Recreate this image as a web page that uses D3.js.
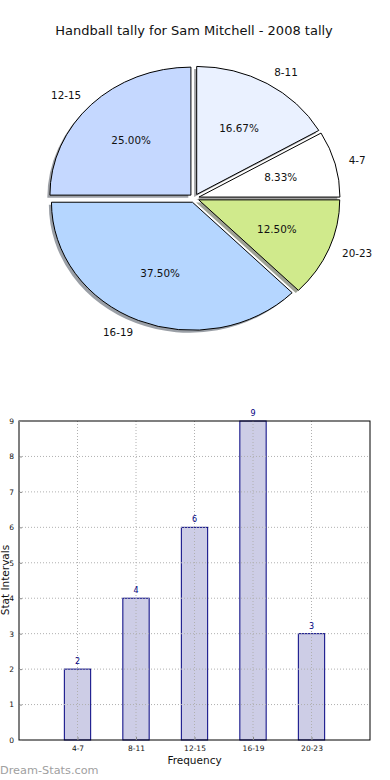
<!DOCTYPE html>
<html><head><meta charset="utf-8">
<script src="https://cdn.jsdelivr.net/npm/d3@7"></script>
<style>
body{margin:0;background:#fff;}
svg{display:block;font-family:"DejaVu Sans",sans-serif;}
</style></head>
<body><svg id="c" width="390" height="780"></svg>
<script>
const title = "Handball tally for Sam Mitchell - 2008 tally";
const categories = ["4-7","8-11","12-15","16-19","20-23"];
const counts = [2,4,6,9,3];
const pieColors = ["#ffffff","#eaf1ff","#c5d8ff","#b5d6ff","#d0ea8c"];
const yTicks = [0,1,2,3,4,5,6,7,8,9];
const xLabel = "Frequency";
const yLabel = "Stat Intervals";
const watermark = "Dream-Stats.com";

const svg = d3.select("#c");
svg.append("rect").attr("width",390).attr("height",780).attr("fill","#fff");

// Title
svg.append("text").attr("x",194).attr("y",35).attr("text-anchor","middle")
  .attr("font-size",13).attr("fill","#111").text(title);

// ---------- PIE ----------
const cx = 194.3, cy = 198.2, rx = 141, ry = 128;
const k = ry/rx;
const explode = 0.034;
const total = d3.sum(counts);
const pie = d3.pie().sort(null).startAngle(Math.PI/2).endAngle(Math.PI/2 - 2*Math.PI);
const arcs = pie(counts);
const arc = d3.arc().innerRadius(0).outerRadius(rx);

const pg = svg.append("g");
arcs.forEach((a,i)=>{
  const mid = (a.startAngle + a.endAngle)/2;
  const ux = Math.sin(mid), uy = -Math.cos(mid);
  const ox = cx + explode*rx*ux, oy = cy + explode*ry*uy;
  const col = d3.color(pieColors[i]);
  const sh = d3.rgb(col.r*0.3, col.g*0.3, col.b*0.3);
  pg.append("path")
    .attr("transform",`translate(${ox-2.6},${oy+2.6}) scale(1,${k})`)
    .attr("d",arc(a)).attr("fill",sh.toString()).attr("fill-opacity",0.5)
    .attr("stroke","none");
});
arcs.forEach((a,i)=>{
  const mid = (a.startAngle + a.endAngle)/2;
  const ux = Math.sin(mid), uy = -Math.cos(mid);
  const ox = cx + explode*rx*ux, oy = cy + explode*ry*uy;
  pg.append("path")
    .attr("transform",`translate(${ox},${oy}) scale(1,${k})`)
    .attr("d",arc(a)).attr("fill",pieColors[i])
    .attr("stroke","#000").attr("stroke-width",1).attr("vector-effect","non-scaling-stroke");
  const lx = ox + 1.1*rx*ux, ly = oy + 1.1*ry*uy;
  pg.append("text").attr("x",lx).attr("y",ly).attr("dy","0.35em")
    .attr("text-anchor", ux>0 ? "start" : "end")
    .attr("font-size",10.4).attr("fill","#111").text(categories[i]);
  const px = ox + 0.6*rx*ux, py = oy + 0.6*ry*uy;
  pg.append("text").attr("x",px).attr("y",py).attr("dy","0.35em")
    .attr("text-anchor","middle").attr("font-size",10.4).attr("fill","#111")
    .text((counts[i]/total*100).toFixed(2)+"%");
});

// ---------- BAR ----------
const L=19, R=370, T=421, B=740;
const x = d3.scaleLinear().domain([-1,5]).range([L,R]);
const y = d3.scaleLinear().domain([0,9]).range([B,T]);
const bw = 0.45;
const bg = svg.append("g");

// bars
bg.selectAll(".bar").data(counts).enter().append("rect")
  .attr("x",(d,i)=>x(i-bw/2)).attr("width",x(bw)-x(0))
  .attr("y",d=>y(d)).attr("height",d=>B-y(d))
  .attr("fill","#cdcde6").attr("stroke","#000080").attr("stroke-width",1);

// grid (drawn over bars, as in reference)
bg.selectAll(".gx").data(categories).enter().append("line")
  .attr("x1",(d,i)=>x(i)).attr("x2",(d,i)=>x(i)).attr("y1",T).attr("y2",B)
  .attr("stroke","#b0b0b0").attr("stroke-dasharray","1,2").attr("stroke-width",1);
bg.selectAll(".gy").data(yTicks.slice(1,-1)).enter().append("line")
  .attr("x1",L).attr("x2",R).attr("y1",d=>y(d)).attr("y2",d=>y(d))
  .attr("stroke","#b0b0b0").attr("stroke-dasharray","1,2").attr("stroke-width",1);

// value labels
bg.selectAll(".vl").data(counts).enter().append("text")
  .attr("x",(d,i)=>x(i)).attr("y",d=>y(d)-5)
  .attr("text-anchor","middle").attr("font-size",8).attr("fill","#000080").text(d=>d);

// frame
bg.append("rect").attr("x",L).attr("y",T).attr("width",R-L).attr("height",B-T)
  .attr("fill","none").attr("stroke","#000").attr("stroke-width",1);

// axes
const yAxis = d3.axisLeft(y).tickValues(yTicks).tickSize(-3).tickPadding(5).tickFormat(d3.format("d"));
const ya = bg.append("g").attr("transform",`translate(${L},0)`).call(yAxis);
ya.select(".domain").remove();
ya.selectAll("text").attr("font-size",7.5).attr("fill","#111").attr("font-family","DejaVu Sans");
ya.selectAll("line").attr("stroke","#888");

const xAxis = d3.axisBottom(x).tickValues(d3.range(categories.length)).tickSize(-3).tickPadding(6)
  .tickFormat(i=>categories[i]);
const xa = bg.append("g").attr("transform",`translate(0,${B})`).call(xAxis);
xa.select(".domain").remove();
xa.selectAll("text").attr("font-size",7.5).attr("fill","#111").attr("font-family","DejaVu Sans");
xa.selectAll("line").attr("stroke","#888");

bg.append("text").attr("x",194.5).attr("y",764).attr("text-anchor","middle")
  .attr("font-size",10.5).attr("fill","#111").text(xLabel);
bg.append("text").attr("transform","translate(9,580) rotate(-90)").attr("text-anchor","middle")
  .attr("font-size",10.5).attr("fill","#111").text(yLabel);

svg.append("text").attr("x",0).attr("y",774).attr("font-size",11.3)
  .attr("fill","#a0a0a0").text(watermark);
</script></body></html>
